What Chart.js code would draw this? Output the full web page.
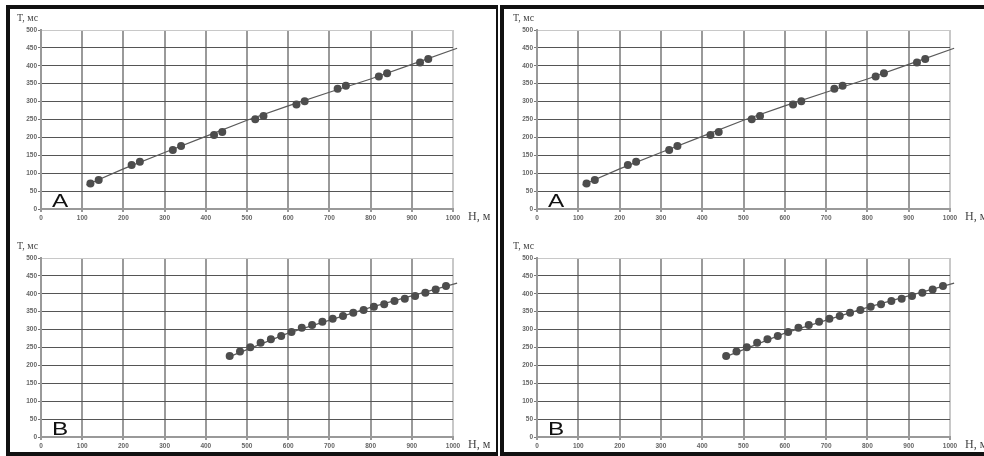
<!DOCTYPE html>
<html>
<head>
<meta charset="utf-8">
<script src="https://cdn.jsdelivr.net/npm/chart.js@4.4.1/dist/chart.umd.min.js"></script>
<style>
    html, body { margin: 0; padding: 0; background: #fff; width: 984px; height: 456px; overflow: hidden; position: relative; }
    .panel { position: absolute; box-sizing: border-box; border: 4px solid #111; background: #fff; }
    canvas { position: absolute; }
</style>
</head>
<body>
<div class="panel" style="left:6px;top:5px;width:492px;height:451px;border-right-width:2px;"></div>
<div class="panel" style="left:500px;top:5px;width:600px;height:451px;"></div>
<canvas id="chartA1"></canvas>
<canvas id="chartB1"></canvas>
<canvas id="chartA2"></canvas>
<canvas id="chartB2"></canvas>
<script>
// axis ranges (H, m / T, ms)
const H_MAX = 1000, H_STEP = 100;
const T_MAX = 500,  T_STEP = 50;

// panel A — measured points and fitted curve
const aPointsH = [120, 140, 220, 240, 320, 340, 420, 440, 520, 540, 620, 640, 720, 740, 820, 840, 920, 940];
const aPointsT = [71, 81, 123, 132, 165, 176, 207, 215, 251, 260, 292, 301, 336, 344, 370, 379, 409, 419];
const aLineH   = [110, 200, 300, 400, 500, 600, 700, 800, 900, 1010];
const aLineT   = [67, 112, 158, 203, 248, 288, 326, 363, 404, 449];

// panel B — measured points and fitted curve
const bPointsH = [458, 483, 508, 533, 558, 583, 608, 633, 658, 683, 708, 733, 758, 783, 808, 833, 858, 883, 908, 933, 958, 983];
const bPointsT = [226, 239, 251, 263, 273, 282, 293, 305, 313, 322, 330, 338, 347, 355, 364, 371, 380, 386, 394, 403, 412, 422];
const bLineH   = [450, 600, 800, 1010];
const bLineT   = [221, 290, 362, 430];

// room round the plot area inside each canvas
const PAD_L = 30, PAD_T = 26, PAD_R = 50, PAD_B = 20;

const axisLabels = {
    id: 'axisLabels',
    afterDraw(chart, args, opts) {
        const { ctx, chartArea: a } = chart;
        ctx.save();
        ctx.fillStyle = '#444';
        ctx.textBaseline = 'middle';
        ctx.font = '10px "Liberation Serif"';
        ctx.fillText('T, мс', a.left - 24, a.top - 12);
        ctx.font = '12px "Liberation Serif"';
        ctx.fillText('H, м', a.right + 15, a.bottom + 8);
        ctx.fillStyle = '#111';
        ctx.textBaseline = 'alphabetic';
        ctx.font = '18px "Liberation Sans"';
        ctx.translate(a.left + 11, a.bottom - 2);
        ctx.scale(1.35, 1);
        ctx.fillText(opts.letter, 0, 0);
        ctx.restore();
    }
};

function toXY(hs, ts) {
    return hs.map((h, i) => ({ x: h, y: ts[i] }));
}

function makeChart(id, plot, letter, pointsH, pointsT, lineH, lineT) {
    const canvas = document.getElementById(id);
    const w = plot.right - plot.left + PAD_L + PAD_R;
    const h = plot.bottom - plot.top + PAD_T + PAD_B;
    canvas.width = w;  canvas.height = h;
    canvas.style.width = w + 'px';  canvas.style.height = h + 'px';
    canvas.style.left = (plot.left - PAD_L) + 'px';
    canvas.style.top  = (plot.top - PAD_T) + 'px';

    const tickFont = { family: 'Liberation Sans', size: 6.5, weight: 'bold' };

    new Chart(canvas, {
        type: 'scatter',
        data: {
            datasets: [
                { data: toXY(pointsH, pointsT), showLine: false, pointRadius: 4, pointHoverRadius: 4, backgroundColor: '#4d4d4d', borderWidth: 0 },
                { data: toXY(lineH, lineT), showLine: true, borderColor: '#5a5a5a', borderWidth: 1.2, pointRadius: 0, fill: false, clip: false }
            ]
        },
        options: {
            responsive: false,
            animation: false,
            layout: { padding: { top: PAD_T, left: 0, right: PAD_R, bottom: 0 } },
            plugins: { legend: { display: false }, tooltip: { enabled: false }, axisLabels: { letter } },
            scales: {
                x: {
                    type: 'linear', min: 0, max: H_MAX,
                    ticks: { stepSize: H_STEP, font: tickFont, color: '#666', padding: 2, maxRotation: 0, autoSkip: false, callback: v => String(v) },
                    grid: { color: c => c.tick && c.tick.value === H_MAX ? '#c8c8c8' : '#9a9a9a', lineWidth: 2, tickLength: 3, tickColor: '#999' },
                    border: { color: '#999', width: 2 },
                    afterFit: s => { s.height = PAD_B; s.paddingLeft = 0; s.paddingRight = 0; }
                },
                y: {
                    type: 'linear', min: 0, max: T_MAX,
                    ticks: { stepSize: T_STEP, font: tickFont, color: '#666', padding: 1, callback: v => String(v) },
                    grid: { color: c => c.tick && c.tick.value === T_MAX ? '#c8c8c8' : '#555', lineWidth: 1, tickLength: 3, tickColor: '#777' },
                    border: { color: '#999', width: 2 },
                    afterFit: s => { s.width = PAD_L; s.paddingTop = 0; s.paddingBottom = 0; }
                }
            }
        },
        plugins: [axisLabels]
    });
}

document.addEventListener('DOMContentLoaded', function () {
    makeChart('chartA1', { left: 41,  right: 453, top: 30,  bottom: 209 }, 'A', aPointsH, aPointsT, aLineH, aLineT);
    makeChart('chartB1', { left: 41,  right: 453, top: 258, bottom: 437 }, 'B', bPointsH, bPointsT, bLineH, bLineT);
    makeChart('chartA2', { left: 537, right: 950, top: 30,  bottom: 209 }, 'A', aPointsH, aPointsT, aLineH, aLineT);
    makeChart('chartB2', { left: 537, right: 950, top: 258, bottom: 437 }, 'B', bPointsH, bPointsT, bLineH, bLineT);
});
</script>
</body>
</html>
